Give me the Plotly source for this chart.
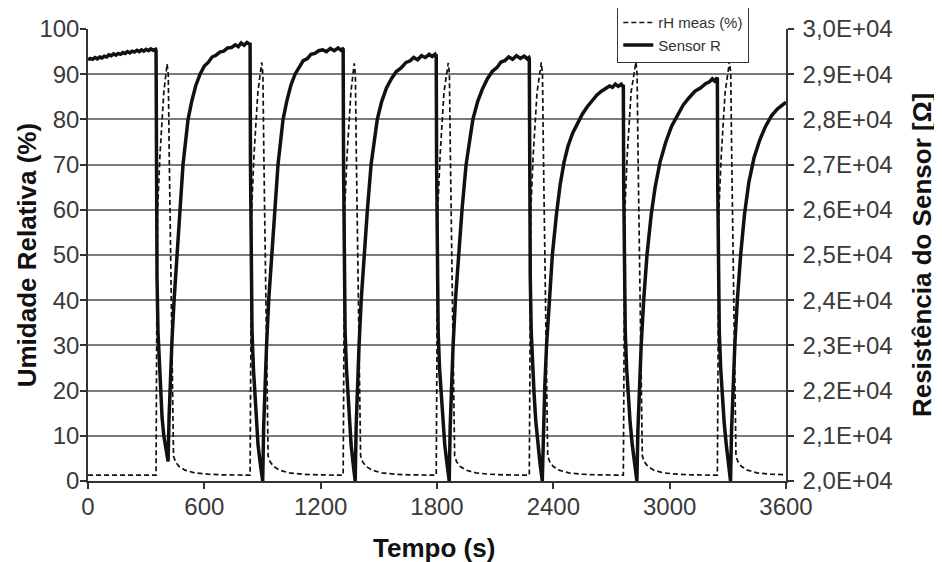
import plotly.graph_objects as go

# ---------------- data ----------------
# Time axis ticks
x_ticks = [0, 600, 1200, 1800, 2400, 3000, 3600]
y_left_ticks = [0, 10, 20, 30, 40, 50, 60, 70, 80, 90, 100]
y_right_ticks = [20000, 21000, 22000, 23000, 24000, 25000, 26000, 27000, 28000, 29000, 30000]
y_right_labels = ["2,0E+04", "2,1E+04", "2,2E+04", "2,3E+04", "2,4E+04", "2,5E+04",
                  "2,6E+04", "2,7E+04", "2,8E+04", "2,9E+04", "3,0E+04"]

# rH meas (%)
rh_t = [0, 351, 354, 359, 371, 391, 408, 414, 419, 426, 432, 437, 441, 452, 470, 500, 550, 620, 700,
        836, 839, 844, 856, 876, 896, 902, 907, 914, 920, 925, 929, 940, 958, 988, 1038, 1108, 1188,
        1316, 1319, 1324, 1336, 1356, 1373, 1379, 1384, 1391, 1397, 1402, 1406, 1417, 1435, 1465, 1515, 1585, 1665,
        1796, 1799, 1804, 1816, 1836, 1858, 1864, 1869, 1876, 1882, 1887, 1891, 1902, 1920, 1950, 2000, 2070, 2150,
        2276, 2279, 2284, 2296, 2316, 2338, 2344, 2349, 2356, 2362, 2367, 2371, 2382, 2400, 2430, 2480, 2550, 2630,
        2761, 2764, 2769, 2781, 2801, 2826, 2832, 2837, 2844, 2850, 2855, 2859, 2870, 2888, 2918, 2968, 3038, 3118,
        3246, 3249, 3254, 3266, 3286, 3309, 3315, 3320, 3327, 3333, 3338, 3342, 3353, 3371, 3401, 3451, 3521, 3600]
rh_v = [1.3, 1.3, 30, 60, 72, 86, 92.3, 90, 72, 50, 31, 12, 5.5, 4.2, 3.2, 2.4, 1.8, 1.5, 1.35,
        1.3, 30, 60, 72, 86, 92.6, 90, 72, 50, 31, 12, 5.5, 4.2, 3.2, 2.4, 1.8, 1.5, 1.35,
        1.3, 30, 60, 72, 86, 92.4, 90, 72, 50, 31, 12, 5.5, 4.2, 3.2, 2.4, 1.8, 1.5, 1.35,
        1.3, 30, 60, 72, 86, 92.5, 90, 72, 50, 31, 12, 5.5, 4.2, 3.2, 2.4, 1.8, 1.5, 1.35,
        1.3, 30, 60, 72, 86, 92.6, 90, 72, 50, 31, 12, 5.5, 4.2, 3.2, 2.4, 1.8, 1.5, 1.35,
        1.3, 30, 60, 72, 86, 92.7, 90, 72, 50, 31, 12, 5.5, 4.2, 3.2, 2.4, 1.8, 1.5, 1.35,
        1.3, 30, 60, 72, 86, 92.9, 90, 72, 50, 31, 12, 5.5, 4.2, 3.2, 2.4, 1.8, 1.5, 1.4]

# Sensor R (ohm)
sr_t = [0, 12, 24, 36, 48, 60, 72, 84, 96, 108, 120, 132, 144, 156, 168, 180, 192, 204, 216, 228,
        240, 252, 264, 276, 288, 300, 312, 324, 336, 349,
        351, 353, 356, 361, 368, 374, 382, 391, 402, 413,
        418, 425, 433, 444, 459, 475, 490, 503, 516, 535, 556, 578, 600, 620, 640, 660, 680, 700,
        720, 740, 760, 775, 790, 805, 820, 834,
        836, 838, 841, 846, 853, 860, 868, 877, 888, 901,
        906, 913, 921, 932, 947, 963, 980, 993, 1006, 1025, 1046, 1068, 1090, 1110, 1130, 1150,
        1170, 1190, 1210, 1230, 1250, 1270, 1290, 1305, 1314,
        1316, 1318, 1321, 1326, 1333, 1340, 1348, 1357, 1367, 1378,
        1383, 1390, 1398, 1409, 1424, 1441, 1460, 1475, 1492, 1515, 1540, 1565, 1590, 1615, 1640,
        1660, 1680, 1700, 1720, 1740, 1760, 1775, 1790, 1794,
        1796, 1798, 1801, 1806, 1813, 1821, 1830, 1840, 1851, 1863,
        1868, 1875, 1883, 1895, 1911, 1929, 1950, 1966, 1985, 2010, 2035, 2060, 2085, 2110, 2130,
        2150, 2170, 2190, 2210, 2230, 2250, 2265, 2274,
        2276, 2278, 2281, 2286, 2293, 2301, 2310, 2320, 2331, 2343,
        2348, 2356, 2365, 2378, 2395, 2416, 2435, 2455, 2475, 2500, 2525, 2550, 2575, 2600, 2625,
        2650, 2670, 2690, 2705, 2720, 2735, 2750, 2759,
        2761, 2763, 2766, 2771, 2778, 2786, 2796, 2807, 2819, 2831,
        2836, 2844, 2853, 2866, 2883, 2905, 2925, 2950, 2980, 3010, 3040, 3070, 3100, 3130, 3160,
        3185, 3205, 3220, 3232, 3244,
        3246, 3248, 3251, 3256, 3263, 3271, 3281, 3292, 3303, 3314,
        3319, 3327, 3336, 3349, 3366, 3386, 3408, 3435, 3465, 3495, 3525, 3555, 3580, 3600]
sr_v = [29320, 29350, 29330, 29370, 29340, 29380, 29360, 29400, 29380, 29430, 29410, 29450, 29420, 29460,
        29440, 29480, 29460, 29500, 29470, 29510, 29490, 29530, 29500, 29540, 29510, 29550, 29520, 29560,
        29530, 29550,
        29520, 27000, 24500, 23300, 22500, 22000, 21400, 21000, 20650, 20430,
        21400, 22400, 23100, 24000, 25000, 26000, 27000, 27500, 28000, 28400, 28750, 29000, 29180, 29260,
        29380, 29420, 29490, 29510, 29580, 29590, 29650, 29610, 29690, 29640, 29700, 29660,
        29660, 27000, 24500, 23300, 22500, 21900, 21300, 20800, 20400, 20000,
        21200, 22200, 23000, 24000, 25000, 26000, 27000, 27500, 28000, 28400, 28750, 29000, 29160, 29300,
        29340, 29440, 29460, 29520, 29540, 29500, 29570, 29520, 29580, 29530, 29560,
        29550, 27000, 24500, 23300, 22500, 21900, 21300, 20800, 20400, 20000,
        21200, 22200, 23000, 24000, 25000, 26000, 27000, 27500, 28000, 28400, 28700, 28900, 29060, 29140,
        29260, 29290, 29370, 29320, 29410, 29370, 29440, 29390, 29440, 29400,
        29400, 27000, 24500, 23300, 22500, 21900, 21300, 20800, 20400, 20000,
        21200, 22200, 23000, 24000, 25000, 26000, 27000, 27500, 28000, 28400, 28680, 28900, 29060, 29150,
        29270, 29300, 29380, 29330, 29410, 29350, 29400, 29340, 29370,
        29350, 27000, 24500, 23300, 22500, 21900, 21300, 20800, 20400, 20000,
        21100, 22100, 23000, 24000, 25000, 25900, 26550, 27050, 27400, 27700, 27930, 28120, 28280, 28420, 28540,
        28630, 28690, 28740, 28710, 28780, 28730, 28780, 28730,
        28730, 26500, 24500, 23300, 22500, 21900, 21300, 20800, 20400, 20000,
        21100, 22100, 23000, 24000, 25000, 25900, 26500, 27050, 27500, 27850, 28100, 28320, 28480, 28620,
        28700, 28790, 28830, 28900, 28850, 28920,
        28900, 26500, 24500, 23300, 22500, 21900, 21300, 20800, 20400, 20000,
        21100, 22100, 23000, 24000, 25000, 25900, 26600, 27150, 27550, 27850, 28080, 28230, 28320, 28380]

# ---------------- figure ----------------
FONT = "Arial, Liberation Sans, sans-serif"
TICK_FONT = dict(family=FONT, size=24, color="#3a3a3a")
TITLE_FONT = dict(family=FONT, size=26, color="#111111")

fig = go.Figure()
fig.add_trace(go.Scatter(
    x=rh_t, y=rh_v, name="rH meas (%)", mode="lines",
    line=dict(color="#111111", width=1.7, dash="5px,3px"),
    yaxis="y",
))
fig.add_trace(go.Scatter(
    x=sr_t, y=sr_v, name="Sensor R", mode="lines",
    line=dict(color="#111111", width=3.5),
    yaxis="y2",
))

# The page body adds an 8px offset, so the figure is 8px smaller and margins shifted.
fig.update_layout(
    width=934, height=554,
    margin=dict(l=80, r=156, t=21, b=81, autoexpand=False),
    paper_bgcolor="white", plot_bgcolor="white",
    showlegend=True,
    legend=dict(
        x=0.758, y=1.053, xanchor="left", yanchor="top",
        bgcolor="white", bordercolor="#333333", borderwidth=1.2,
        font=dict(family=FONT, size=15, color="#333333"),
        tracegroupgap=0, itemwidth=30,
    ),
    xaxis=dict(
        range=[0, 3600], tickmode="array", tickvals=x_ticks,
        ticktext=[str(v) for v in x_ticks],
        showgrid=False, zeroline=False,
        showline=True, linecolor="#333333", linewidth=1.5,
        ticks="outside", ticklen=6, tickcolor="#333333", tickwidth=1.5,
        tickfont=TICK_FONT, ticklabelstandoff=-3,
    ),
    yaxis=dict(
        range=[0, 100], tickmode="array", tickvals=y_left_ticks,
        showgrid=True, gridcolor="#7a7a7a", gridwidth=1.5,
        zeroline=False,
        showline=True, linecolor="#333333", linewidth=1.5,
        ticks="outside", ticklen=6, tickcolor="#333333", tickwidth=1.5,
        tickfont=TICK_FONT, ticklabelstandoff=-4,
    ),
    yaxis2=dict(
        range=[20000, 30000], overlaying="y", side="right",
        tickmode="array", tickvals=y_right_ticks, ticktext=y_right_labels,
        showgrid=False, zeroline=False,
        showline=True, linecolor="#333333", linewidth=1.5,
        ticks="outside", ticklen=6, tickcolor="#333333", tickwidth=1.5,
        tickfont=TICK_FONT, ticklabelstandoff=4,
    ),
    annotations=[
        dict(text="<b>Umidade Relativa (%)</b>", xref="paper", yref="paper",
             x=-0.087, y=0.5, textangle=-90, showarrow=False,
             xanchor="center", yanchor="middle", font=TITLE_FONT),
        dict(text="<b>Resistência do Sensor [Ω]</b>", xref="paper", yref="paper",
             x=1.195, y=0.5, textangle=-90, showarrow=False,
             xanchor="center", yanchor="middle", font=TITLE_FONT),
        dict(text="<b>Tempo (s)</b>", xref="paper", yref="paper",
             x=0.496, y=-0.148, showarrow=False,
             xanchor="center", yanchor="middle", font=TITLE_FONT),
    ],
)

fig.write_html("out.html")
